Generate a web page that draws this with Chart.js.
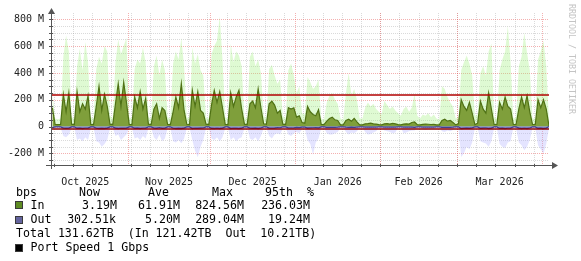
<!DOCTYPE html>
<html>
<head>
<meta charset="utf-8">
<script src="https://cdn.jsdelivr.net/npm/chart.js@4.4.1/dist/chart.umd.min.js"></script>
<style>
  html, body { margin: 0; padding: 0; background: #fff; }
  #wrap { position: relative; width: 581px; height: 261px; overflow: hidden; }
  #graph { position: absolute; left: 0; top: 0; }
  .lg { position: absolute; font-family: 'DejaVu Sans Mono', monospace; font-size: 11.6px; line-height: 14px; color: #000; white-space: pre; }
  .box { position: absolute; left: 15px; width: 8px; height: 8px; box-sizing: border-box; border: 1px solid #3a3a3a; }
  #credit { position: absolute; left: 567px; top: 4px; font-family: 'DejaVu Sans Mono', monospace; font-size: 8.3px; color: #c4c4c4; writing-mode: vertical-rl; white-space: pre; }
</style>
</head>
<body>
<div id="wrap">
  <canvas id="graph" width="581" height="261"></canvas>
  <div id="credit">RRDTOOL / TOBI OETIKER</div>

  <div class="lg" style="left:16px; top:185px">bps</div>
  <div class="lg" style="left:79px; top:185px">Now</div>
  <div class="lg" style="left:148px; top:185px">Ave</div>
  <div class="lg" style="left:212px; top:185px">Max</div>
  <div class="lg" style="left:265px; top:185px; word-spacing:7px">95th %</div>

  <div class="box" style="top:201px; background:#5f8c23"></div>
  <div class="lg" style="left:30.5px; top:198px">In</div>
  <div class="lg" style="right:464px; top:198px">3.19M</div>
  <div class="lg" style="right:401px; top:198px">61.91M</div>
  <div class="lg" style="right:337px; top:198px">824.56M</div>
  <div class="lg" style="right:271px; top:198px">236.03M</div>

  <div class="box" style="top:215.5px; background:#64649e"></div>
  <div class="lg" style="left:30.5px; top:212px">Out</div>
  <div class="lg" style="right:465px; top:212px">302.51k</div>
  <div class="lg" style="right:401px; top:212px">5.20M</div>
  <div class="lg" style="right:337px; top:212px">289.04M</div>
  <div class="lg" style="right:271px; top:212px">19.24M</div>

  <div class="lg" style="left:16px; top:226px">Total 131.62TB  (In 121.42TB  Out  10.21TB)</div>

  <div class="box" style="top:243.5px; background:#000"></div>
  <div class="lg" style="left:30.5px; top:240px">Port Speed 1 Gbps</div>
</div>
<script>
// one value per day, Sat 4 Oct 2025 .. Fri 3 Apr 2026, in Mbit/s (out drawn negative)
const startDay = Date.UTC(2025, 9, 4);
const months = [[2025, 9], [2025, 10], [2025, 11], [2026, 0], [2026, 1], [2026, 2], [2026, 3]];
const monthLabels = ['Oct 2025', 'Nov 2025', 'Dec 2025', 'Jan 2026', 'Feb 2026', 'Mar 2026'];
const yTicks = [-200, 0, 200, 400, 600, 800];
const in95 = 236.03;
const out95 = 19.24;

const inAvg = [
  140, 16, 14, 15, 240, 110, 250,
  18, 15, 260, 110, 170, 130, 230,
  16, 14, 150, 300, 120, 240, 150,
  18, 15, 170, 320, 150, 330, 180,
  16, 15, 220, 140, 260, 130, 210,
  18, 15, 130, 170, 60, 140, 120,
  16, 15, 110, 220, 140, 320, 120,
  17, 15, 270, 150, 260, 120, 100,
  18, 15, 160, 270, 180, 260, 140,
  16, 15, 250, 150, 220, 270, 130,
  18, 15, 170, 190, 140, 280, 140,
  20, 16, 170, 190, 160, 100, 120,
  18, 15, 140, 130, 140, 70, 80,
  30, 25, 150, 110, 90, 80, 125,
  15, 14, 40, 60, 70, 50, 45,
  12, 12, 45, 55, 40, 60, 35,
  12, 12, 20, 22, 25, 20, 18,
  14, 13, 20, 22, 18, 24, 20,
  14, 13, 18, 20, 18, 30, 34,
  14, 12, 16, 18, 17, 15, 16,
  12, 12, 45, 55, 40, 45, 30,
  12, 20, 200, 150, 120, 180, 100,
  15, 25, 190, 130, 100, 250, 130,
  15, 15, 180, 130, 220, 150, 130,
  15, 15, 130, 220, 140, 230, 110,
  15, 15, 200, 140, 200, 130, 3.19
];
const inMax = [
  250, 60, 55, 60, 520, 680, 560,
  70, 60, 450, 580, 420, 630, 480,
  70, 60, 430, 520, 470, 600, 560,
  80, 60, 480, 650, 540, 600, 660,
  70, 60, 430, 500, 470, 590, 480,
  70, 60, 450, 530, 380, 500, 420,
  70, 60, 470, 560, 500, 660, 450,
  70, 60, 590, 470, 540, 420, 380,
  70, 60, 540, 600, 640, 820, 500,
  70, 60, 620, 480, 560, 530, 450,
  70, 60, 520, 560, 450, 500, 400,
  80, 60, 430, 460, 380, 320, 350,
  80, 60, 420, 470, 380, 250, 300,
  100, 90, 370, 330, 280, 300, 350,
  60, 50, 180, 230, 250, 200, 170,
  60, 50, 250, 400, 230, 280, 200,
  60, 60, 140, 180, 150, 170, 130,
  110, 90, 190, 160, 130, 150, 120,
  100, 80, 130, 150, 110, 140, 240,
  80, 60, 90, 80, 100, 70, 90,
  60, 50, 300, 280, 220, 180, 150,
  60, 70, 420, 480, 530, 470, 380,
  80, 90, 400, 450, 380, 560, 620,
  70, 60, 420, 500, 560, 750, 480,
  60, 70, 450, 520, 700, 550, 420,
  60, 60, 500, 560, 640, 450, 50
];
const outAvg = [
  -8, -3, -3, -3, -12, -14, -12,
  -3, -3, -14, -12, -15, -13, -12,
  -3, -3, -13, -16, -14, -15, -12,
  -3, -3, -12, -15, -13, -14, -12,
  -3, -3, -14, -12, -16, -13, -12,
  -3, -3, -12, -14, -8, -13, -12,
  -3, -3, -13, -15, -14, -16, -12,
  -3, -3, -15, -13, -14, -12, -11,
  -3, -3, -14, -15, -13, -16, -12,
  -3, -3, -15, -13, -14, -15, -12,
  -3, -3, -13, -14, -12, -15, -11,
  -3, -3, -12, -13, -12, -8, -9,
  -3, -3, -10, -11, -10, -7, -8,
  -4, -4, -12, -10, -9, -8, -10,
  -3, -3, -6, -7, -7, -6, -5,
  -2, -2, -5, -6, -5, -6, -4,
  -2, -2, -4, -5, -5, -4, -4,
  -2, -2, -4, -4, -4, -5, -4,
  -2, -2, -4, -5, -4, -5, -6,
  -2, -2, -4, -4, -4, -4, -4,
  -2, -2, -6, -7, -6, -6, -5,
  -2, -3, -16, -14, -12, -14, -10,
  -3, -3, -14, -12, -11, -15, -12,
  -3, -3, -14, -12, -15, -13, -12,
  -3, -3, -12, -15, -13, -15, -11,
  -3, -3, -14, -12, -15, -12, -0.3
];
const outMax = [
  -20, -10, -10, -10, -70, -80, -60,
  -12, -10, -100, -90, -110, -80, -100,
  -12, -10, -110, -120, -150, -130, -100,
  -12, -10, -70, -60, -100, -80, -60,
  -12, -10, -90, -80, -100, -70, -90,
  -12, -10, -80, -100, -60, -110, -90,
  -12, -10, -110, -120, -100, -125, -90,
  -12, -10, -100, -180, -230, -150, -100,
  -12, -10, -90, -100, -80, -110, -80,
  -12, -10, -100, -80, -110, -90, -80,
  -12, -10, -90, -100, -80, -110, -70,
  -12, -10, -70, -90, -60, -50, -60,
  -12, -10, -60, -70, -50, -40, -50,
  -20, -15, -100, -130, -210, -120, -90,
  -10, -10, -50, -60, -60, -50, -40,
  -10, -8, -40, -60, -45, -50, -35,
  -8, -8, -40, -60, -55, -45, -35,
  -8, -8, -30, -35, -40, -50, -45,
  -8, -8, -50, -45, -35, -30, -30,
  -8, -8, -20, -25, -20, -18, -20,
  -8, -8, -35, -40, -30, -35, -25,
  -8, -10, -227, -200, -150, -170, -120,
  -10, -10, -110, -120, -127, -150, -110,
  -10, -10, -130, -150, -160, -120, -110,
  -10, -10, -120, -140, -177, -150, -100,
  -10, -10, -140, -170, -202, -130, -10
];

const toDay = (y, m) => (Date.UTC(y, m, 1) - startDay) / 86400000;
const monthStart = months.map(([y, m]) => toDay(y, m));
const monthMid = monthLabels.map((l, i) => (monthStart[i] + monthStart[i + 1]) / 2);
const xMax = inAvg.length - 0.5;

const pts = arr => arr.map((v, i) => ({ x: i + 0.5, y: v }));
const flat = v => [{ x: 0, y: v }, { x: xMax, y: v }];

const minorColor = 'rgba(140, 140, 140, 0.32)';
const majorColor = 'rgba(230, 80, 80, 0.45)';
const axisColor = '#555';

const rrdGrid = {
  id: 'rrdGrid',
  beforeDatasetsDraw(chart) {
    const { ctx, chartArea: a, scales: { x, y } } = chart;
    ctx.save();
    ctx.lineWidth = 1;
    ctx.setLineDash([1, 1]);
    const hline = (v, c) => {
      const py = Math.round(y.getPixelForValue(v)) + 0.5;
      ctx.strokeStyle = c;
      ctx.beginPath(); ctx.moveTo(a.left, py); ctx.lineTo(a.right, py); ctx.stroke();
    };
    const vline = (v, c) => {
      const px = Math.round(x.getPixelForValue(v)) + 0.5;
      if (px <= a.left || px >= a.right) return;
      ctx.strokeStyle = c;
      ctx.beginPath(); ctx.moveTo(px, a.top); ctx.lineTo(px, a.bottom); ctx.stroke();
    };
    for (let v = -250; v <= 800; v += 50) if (v % 200) hline(v, minorColor);
    for (let d = 1; d < xMax; d += 7) vline(d, minorColor);
    yTicks.forEach(v => hline(v, majorColor));
    monthStart.forEach(d => vline(d, majorColor));
    ctx.restore();
  },
  afterDatasetsDraw(chart) {
    const { ctx, chartArea: a, scales: { x, y } } = chart;
    const x0 = a.left + 0.5, y0 = a.bottom + 0.5;
    ctx.save();
    ctx.strokeStyle = axisColor;
    ctx.fillStyle = axisColor;
    ctx.lineWidth = 1;
    ctx.beginPath();
    ctx.moveTo(a.left - 5, y0); ctx.lineTo(a.right + 4, y0);
    ctx.moveTo(x0, a.bottom + 4); ctx.lineTo(x0, a.top - 1);
    for (let v = -250; v <= 800; v += 50) {
      const py = Math.round(y.getPixelForValue(v)) + 0.5;
      ctx.moveTo(a.left - 2, py); ctx.lineTo(a.left + 2, py);
    }
    for (let d = 1; d < xMax; d += 7) {
      const px = Math.round(x.getPixelForValue(d)) + 0.5;
      ctx.moveTo(px, a.bottom - 1); ctx.lineTo(px, a.bottom + 2);
    }
    ctx.stroke();
    ctx.beginPath();
    ctx.moveTo(a.right + 9, y0); ctx.lineTo(a.right + 3, y0 - 3.5); ctx.lineTo(a.right + 3, y0 + 3.5);
    ctx.closePath(); ctx.fill();
    ctx.beginPath();
    ctx.moveTo(x0, a.top - 5); ctx.lineTo(x0 - 3.5, a.top + 1); ctx.lineTo(x0 + 3.5, a.top + 1);
    ctx.closePath(); ctx.fill();
    ctx.restore();
  }
};

const area = (data, fillColor, lineColor, lineWidth, order) => ({
  data: pts(data),
  backgroundColor: fillColor,
  borderColor: lineColor,
  borderWidth: lineWidth,
  fill: 'origin',
  pointRadius: 0,
  tension: 0,
  order: order
});

new Chart(document.getElementById('graph'), {
  type: 'line',
  data: {
    datasets: [
      area(inMax, 'rgba(150, 240, 110, 0.3)', 'rgba(0,0,0,0)', 0, 6),
      area(outMax, 'rgba(170, 170, 255, 0.32)', 'rgba(0,0,0,0)', 0, 5),
      area(inAvg, '#7f9f3b', '#4f7114', 1.2, 4),
      area(outAvg, '#7b7bbd', '#3f3f8f', 1.2, 3),
      { data: flat(in95), borderColor: '#b00000', borderWidth: 1.5, pointRadius: 0, fill: false, order: 1 },
      { data: flat(-out95), borderColor: '#8a0000', borderWidth: 1.5, pointRadius: 0, fill: false, order: 1 }
    ]
  },
  options: {
    responsive: false,
    animation: false,
    devicePixelRatio: 1,
    layout: { padding: { left: 0, top: 12, right: 32, bottom: 76 } },
    plugins: { legend: { display: false }, tooltip: { enabled: false } },
    scales: {
      x: {
        type: 'linear',
        min: 0,
        max: xMax,
        grid: { display: false },
        border: { display: false },
        afterFit: s => { s.height = 20; },
        afterBuildTicks: s => { s.ticks = monthMid.map(v => ({ value: v })); },
        ticks: {
          autoSkip: false,
          maxRotation: 0,
          padding: 3,
          color: '#222',
          font: { family: 'DejaVu Sans Mono', size: 10 },
          callback: (v, i) => monthLabels[i]
        }
      },
      y: {
        min: -287,
        max: 847,
        grid: { display: false, drawTicks: false },
        border: { display: false },
        afterFit: s => { s.width = 51; },
        afterBuildTicks: s => { s.ticks = yTicks.map(v => ({ value: v })); },
        ticks: {
          padding: 7,
          color: '#222',
          font: { family: 'DejaVu Sans Mono', size: 10 },
          callback: v => v === 0 ? '0' : v + ' M'
        }
      }
    }
  },
  plugins: [rrdGrid]
});
</script>
</body>
</html>
